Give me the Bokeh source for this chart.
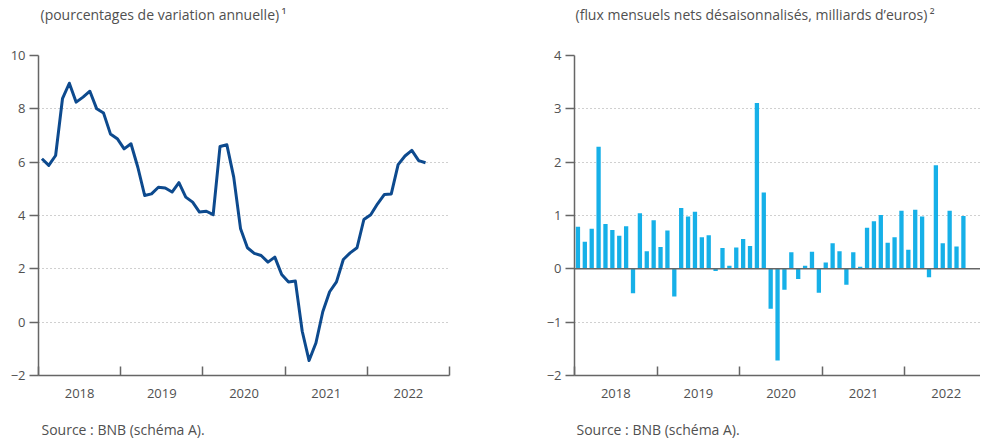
from bokeh.plotting import figure
from bokeh.models import FixedTicker, Title, Range1d, Span, ColumnDataSource
from bokeh.layouts import row
from bokeh.embed import file_html
from bokeh.resources import INLINE

# ---- data (monthly, Jan 2018 - Sep 2022) ----
start_year = 2018
years = [2018, 2019, 2020, 2021, 2022]
growth = [6.13, 5.88, 6.25, 8.38, 8.96, 8.25, 8.44, 8.66, 8.0, 7.84, 7.06, 6.88,
          6.5, 6.69, 5.81, 4.75, 4.81, 5.06, 5.03, 4.88, 5.23, 4.69, 4.5, 4.13,
          4.16, 4.03, 6.59, 6.65, 5.44, 3.5, 2.79, 2.58, 2.5, 2.25, 2.44, 1.79,
          1.51, 1.54, -0.34, -1.44, -0.78, 0.39, 1.14, 1.51, 2.35, 2.6, 2.79, 3.85,
          4.03, 4.44, 4.79, 4.81, 5.91, 6.23, 6.44, 6.06, 5.98]
flows = [0.79, 0.51, 0.75, 2.29, 0.84, 0.73, 0.62, 0.8, -0.46, 1.04, 0.33, 0.91,
         0.41, 0.72, -0.52, 1.14, 0.98, 1.07, 0.59, 0.63, -0.04, 0.39, 0.06, 0.4,
         0.56, 0.43, 3.11, 1.43, -0.75, -1.72, -0.39, 0.31, -0.19, 0.06, 0.32, -0.45,
         0.12, 0.48, 0.33, -0.3, 0.31, 0.04, 0.77, 0.89, 1.01, 0.49, 0.59, 1.09,
         0.36, 1.11, 0.98, -0.16, 1.94, 0.48, 1.09, 0.42, 0.99]
left_yticks = [-2, 0, 2, 4, 6, 8, 10]
right_yticks = [-2, -1, 0, 1, 2, 3, 4]
title_left = "(pourcentages de variation annuelle)\u2009¹"
title_right = "(flux mensuels nets désaisonnalisés, milliards d’euros)\u2009²"
source_text = "Source : BNB (schéma A)."

# x position: label of year Y sits at integer Y, year boundaries at Y - 0.5
xpos = [start_year - 0.5 + (i + 0.5) / 12 for i in range(len(growth))]
boundaries = [y - 0.5 for y in years] + [years[-1] + 0.5]

FONT = "Open Sans"
TXT = "#505050"
AX = "#666666"
LINE_BLUE = "#0d4a8e"
BAR_BLUE = "#16b0e8"
FRAME_H = 320
SPACER = "\u200b"


def style(p, yticks):
    p.outline_line_color = None
    p.xgrid.grid_line_color = None
    p.ygrid.ticker = FixedTicker(ticks=yticks)
    p.ygrid.grid_line_color = "#a0a0a0"
    p.ygrid.grid_line_dash = "1 3"
    p.ygrid.grid_line_width = 1
    # y axis
    ya = p.yaxis[0]
    ya.ticker = FixedTicker(ticks=yticks)
    ya.major_label_overrides = {t: (str(t) if t >= 0 else "\u2212" + str(-t)) for t in yticks}
    ya.major_tick_in = 0
    ya.major_tick_out = 9
    ya.minor_tick_line_color = None
    ya.axis_line_color = AX
    ya.axis_line_width = 1.5
    ya.major_tick_line_color = AX
    ya.major_tick_line_width = 1.5
    ya.major_label_standoff = 4
    ya.major_label_text_font = FONT
    ya.major_label_text_font_size = "13px"
    ya.major_label_text_color = TXT
    # x axis
    xa = p.xaxis[0]
    xa.ticker = FixedTicker(ticks=years, minor_ticks=boundaries)
    xa.major_label_overrides = {y: str(y) for y in years}
    xa.major_tick_line_color = None
    xa.major_tick_in = 0
    xa.major_tick_out = 0
    xa.minor_tick_in = 9
    xa.minor_tick_out = 0
    xa.minor_tick_line_color = AX
    xa.minor_tick_line_width = 1.5
    xa.axis_line_color = AX
    xa.axis_line_width = 1.5
    xa.major_label_standoff = 13
    xa.major_label_text_font = FONT
    xa.major_label_text_font_size = "13px"
    xa.major_label_text_color = TXT


def add_titles(p, text, offset):
    common = dict(align="left", text_font=FONT, text_font_size="14px",
                  text_font_style="normal", text_color=TXT, standoff=0)
    # main title (outermost above panel)
    p.title = Title(text=text, offset=offset, **common)
    # spacer between title and frame
    p.add_layout(Title(text=SPACER, align="left", text_font=FONT, text_font_size="22px",
                       text_color="#ffffff", standoff=0), "above")
    # spacer between axis and source, then source
    p.add_layout(Title(text=SPACER, align="left", text_font=FONT, text_font_size="11px",
                       text_color="#ffffff", standoff=0), "below")
    p.add_layout(Title(text=source_text, offset=offset + 1, **common), "below")


# ---- left chart ----
p1 = figure(frame_width=411, frame_height=FRAME_H, output_backend="svg", toolbar_location=None,
            x_range=Range1d(2017.5, 2022.5), y_range=Range1d(-2, 10),
            min_border_left=38, min_border_right=90, min_border_top=55, min_border_bottom=40)
style(p1, left_yticks)
add_titles(p1, title_left, 2)
src1 = ColumnDataSource(dict(x=xpos, y=growth))
p1.line("x", "y", source=src1, line_color=LINE_BLUE, line_width=3, line_join="round")

# ---- right chart ----
p2 = figure(frame_width=406, frame_height=FRAME_H, output_backend="svg", toolbar_location=None,
            x_range=Range1d(2017.5, 2017.5 + 406 / 82.6), y_range=Range1d(-2, 4),
            min_border_left=35, min_border_right=0, min_border_top=55, min_border_bottom=40)
style(p2, right_yticks)
add_titles(p2, title_right, 1)
src2 = ColumnDataSource(dict(x=xpos, top=flows))
p2.vbar(x="x", top="top", bottom=0, width=0.052, source=src2, fill_color=BAR_BLUE, line_color=None)
p2.add_layout(Span(location=0, dimension="width", line_color=AX, line_width=1.5))

layout = row(p1, p2)
open("out.html", "w").write(file_html(layout, INLINE))
